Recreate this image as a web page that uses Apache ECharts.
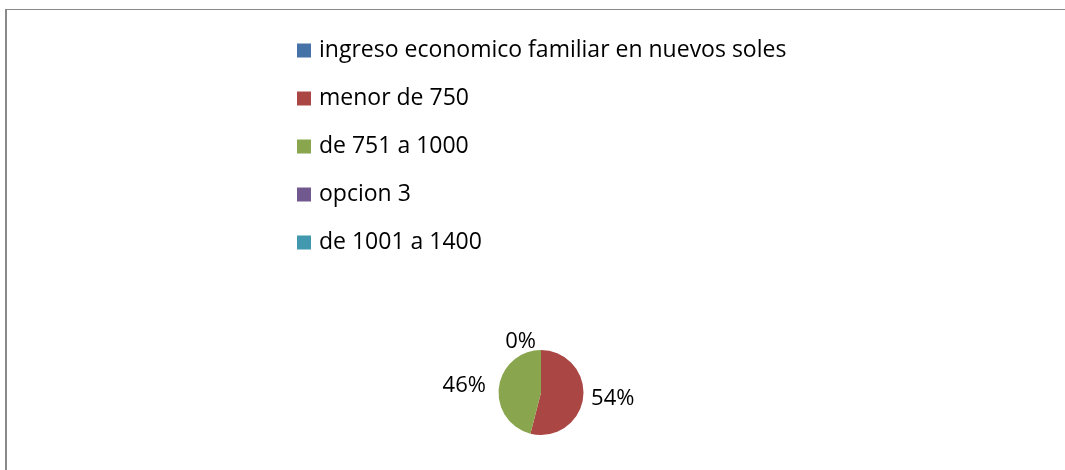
<!DOCTYPE html>
<html style="height: 100%">
<head>
    <meta charset="utf-8">
    <script type="text/javascript" src="https://cdn.jsdelivr.net/npm/echarts@6/dist/echarts.min.js"></script>
</head>
<body style="height: 100%; margin: 0; background: #fff">
<div id="container" style="height: 470px; width: 1065px"></div>
<script type="text/javascript">
    var categories = ['ingreso economico familiar en nuevos soles', 'menor de 750', 'de 751 a 1000', 'opcion 3', 'de 1001 a 1400'];
    var values = [0, 54, 46, '-', '-'];
    var colors = ['#4572A7', '#AA4643', '#89A54E', '#71588F', '#4198AF'];

    var dom = document.getElementById("container");
    var myChart = echarts.init(dom);
    var font = 'Open Sans';
    var option = {
        animation: false,
        color: colors,
        graphic: [
            // frame lines (left and top)
            { type: 'rect', shape: { x: 5, y: 9, width: 2, height: 461 }, style: { fill: '#898989' } },
            { type: 'rect', shape: { x: 5, y: 9, width: 1060, height: 1 }, style: { fill: '#898989' } }
        ],
        legend: {
            orient: 'vertical',
            left: 297,
            top: 38.5,
            padding: 0,
            icon: 'rect',
            itemWidth: 14,
            itemHeight: 14,
            itemGap: 24,
            textStyle: { fontFamily: font, fontSize: 23, lineHeight: 24, color: '#000', padding: [0, 0, 0, 3] },
            data: categories
        },
        series: [
            {
                type: 'pie',
                center: [541, 392.5],
                radius: 42.5,
                startAngle: 90,
                percentPrecision: 0,
                avoidLabelOverlap: true,
                label: {
                    show: true,
                    position: 'outside',
                    formatter: '{d}%',
                    fontFamily: font,
                    fontSize: 22,
                    color: '#000'
                },
                labelLine: { show: false, length: 8, length2: 0 },
                itemStyle: { borderWidth: 0 },
                emphasis: { disabled: true },
                data: categories.map(function (name, i) {
                    return { name: name, value: values[i] };
                })
            }
        ]
    };
    myChart.setOption(option);
</script>
</body>
</html>
